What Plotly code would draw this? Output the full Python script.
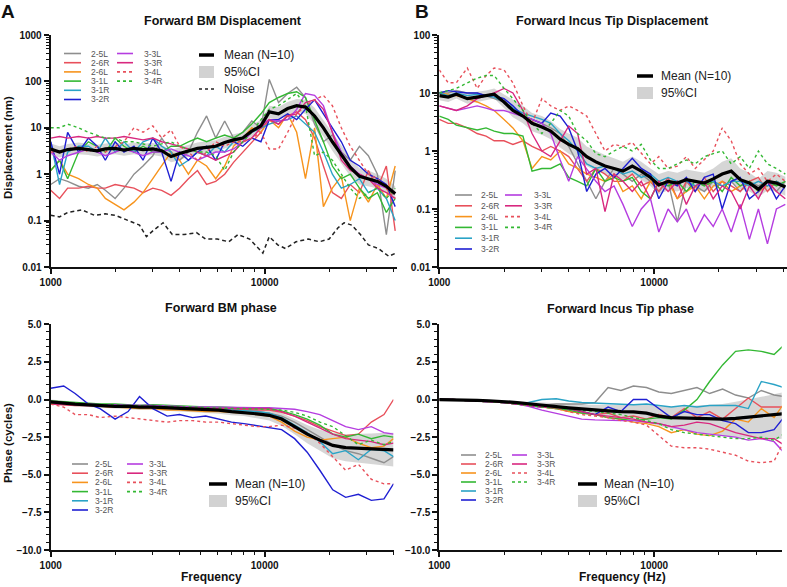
import plotly.graph_objects as go

W, H = 787, 587

# ---------------------------------------------------------------- data
names = ['2-5L', '2-6R', '2-6L', '3-1L', '3-1R', '3-2R', '3-3L', '3-3R', '3-4L', '3-4R']
colors = ['#8e8e8e', '#e8505b', '#f7941d', '#33b833', '#2aa3c6', '#1f1fd2',
          '#b53de0', '#d8287f', '#e8505b', '#33b833']
dashes = ['solid'] * 8 + ['3px,3px', '3px,3px']

freq_d = [1000, 1100, 1200, 1350, 1500, 1650, 1800, 2000, 2200, 2450, 2700, 3000, 3300,
          3650, 4000, 4400, 4850, 5350, 5900, 6500, 7150, 7900, 8700, 9600, 10500, 11600,
          12800, 14100, 15500, 17100, 18800, 20700, 22800, 25100, 27700, 30500, 33600,
          37000, 40700]

# forward BM displacement (nm)
bm_25L = [0.6, 0.8, 0.7, 0.55, 0.5, 0.6, 0.45, 0.3, 0.5, 1.0, 1.5, 2.5, 6, 3, 2, 3, 8, 18, 6, 14,
          6, 8, 14, 10, 110, 35, 55, 75, 45, 12, 5, 7, 3, 2, 4, 2.5, 1, 0.05, 1.2]
bm_26R = [0.45, 0.3, 0.5, 0.5, 0.55, 0.5, 0.5, 0.6, 0.55, 0.5, 0.4, 0.5, 0.45, 0.35, 0.5, 0.8,
          1.2, 0.6, 0.7, 1.0, 1.8, 3, 5, 8, 15, 12, 18, 22, 15, 6, 1.5, 0.4, 0.3, 0.6, 0.4, 1.2,
          0.5, 1.5, 0.06]
bm_26L = [1.2, 2.0, 1.0, 0.8, 0.6, 0.5, 0.3, 0.22, 0.17, 0.25, 0.4, 0.8, 1.5, 3.0, 2.0, 1.0,
          2.0, 1.5, 0.8, 1.5, 4, 6, 10, 8, 15, 10, 20, 8, 0.8, 10, 0.2, 0.5, 0.9, 0.1, 0.5,
          0.25, 0.6, 0.3, 1.5]
bm_31L = [1.2, 2.0, 0.8, 3, 5, 4, 3, 6, 4, 3, 4, 3, 3, 4, 4, 5, 6, 5, 6, 7, 6, 8, 12, 20, 35,
          45, 55, 60, 45, 15, 5, 1.5, 0.8, 1.0, 0.5, 0.3, 0.4, 0.15, 0.3]
bm_31R = [5, 0.6, 3, 4, 4, 3, 6, 3, 5, 3, 5, 6, 4, 3, 1.5, 2, 3, 2.5, 4, 3, 5, 6, 8, 10, 12, 14,
          15, 18, 12, 8, 3, 1.0, 0.5, 0.6, 0.8, 0.4, 0.5, 0.3, 0.1]
bm_32R = [5, 1.0, 8, 3, 6, 4, 2, 5, 3, 4, 2, 6, 3, 0.7, 3, 2, 3, 4, 2, 5, 5, 4, 6, 5, 15, 15,
          20, 15, 25, 40, 20, 10, 5, 2, 1.5, 1.0, 0.8, 0.6, 0.2]
bm_33L = [3, 2, 2.5, 3, 3.5, 3, 2.5, 3, 3.5, 3, 2.5, 3, 3, 3.5, 3, 2.5, 2, 2.5, 3, 3, 3.5, 5,
          8, 12, 15, 14, 15, 25, 55, 50, 30, 8, 3, 1.5, 1.0, 0.8, 0.6, 0.5, 0.4]
bm_33R = [6, 6.5, 6, 6.5, 6, 6.5, 6, 6, 6.5, 6, 5.5, 6, 5, 4.5, 4, 3.5, 3, 2.5, 2, 2.5, 3, 5,
          6, 10, 15, 12, 18, 20, 35, 40, 25, 8, 2, 1.2, 1.0, 0.8, 0.5, 0.4, 0.3]
bm_34L = [3, 3, 3.5, 4, 3, 4, 3, 4, 5, 10, 8, 11, 6, 9, 4, 3, 2, 3, 5, 4, 5, 5, 6, 8, 3.5, 3.5,
          8, 20, 30, 40, 50, 30, 10, 4, 2, 1, 0.8, 0.5, 0.3]
bm_34R = [10, 10, 12, 10, 8, 7, 6, 6, 5, 5, 4.5, 4, 4.5, 5, 4, 3.5, 3, 3, 2.5, 1.2, 3, 5, 8,
          15, 25, 30, 40, 55, 30, 2.5, 3, 2, 1, 0.5, 0.3, 0.4, 0.5, 0.3, 0.5]
bm_mean = [3.5, 3.0, 3.4, 3.6, 3.4, 3.2, 3.5, 3.6, 3.3, 3.6, 3.4, 3.5, 3.2, 2.4, 2.8, 3.2, 3.6,
           3.8, 4.0, 4.8, 5.5, 6.0, 8.5, 11, 22, 20, 26, 30, 28, 18, 10, 5, 2.7, 1.4, 0.9, 0.8,
           0.7, 0.55, 0.38]
bm_lo = [2.6, 2.3, 2.6, 2.7, 2.6, 2.4, 2.6, 2.7, 2.5, 2.7, 2.5, 2.6, 2.4, 1.8, 2.0, 2.4, 2.7,
         2.8, 3.0, 3.6, 4.2, 4.5, 6.5, 8.5, 16, 15, 19, 22, 20, 12, 6.5, 3.2, 1.7, 0.9, 0.6,
         0.55, 0.5, 0.4, 0.27]
bm_hi = [4.6, 4.0, 4.5, 4.8, 4.5, 4.3, 4.6, 4.8, 4.4, 4.8, 4.6, 4.7, 4.3, 3.3, 3.8, 4.3, 4.8,
         5.1, 5.4, 6.4, 7.3, 8.0, 11.5, 15, 30, 28, 36, 42, 40, 27, 15, 7.8, 4.2, 2.2, 1.35,
         1.2, 1.0, 0.8, 0.55]

noise_f = [1000, 1100, 1200, 1400, 1600, 1800, 2000, 2300, 2600, 2800, 3000, 3350, 3700, 4200,
           4800, 5300, 6000, 6800, 7500, 8500, 9800, 10500, 11500, 12500, 14000, 16000, 18000,
           20000, 22000, 23500, 25500, 28000, 30500, 34000, 38000, 41000]
noise_v = [0.13, 0.12, 0.15, 0.17, 0.13, 0.14, 0.13, 0.10, 0.08, 0.045, 0.06, 0.09, 0.05, 0.05,
           0.055, 0.04, 0.04, 0.035, 0.05, 0.04, 0.02, 0.045, 0.03, 0.025, 0.035, 0.04, 0.035,
           0.04, 0.07, 0.09, 0.08, 0.05, 0.03, 0.025, 0.017, 0.02]

# forward incus tip displacement (nm)
it_25L = [10, 10, 11, 10, 10, 9, 8, 7, 5.5, 4, 3.5, 3, 2.5, 2, 1.2, 0.6, 0.3, 0.15, 0.3, 0.5,
          0.4, 0.3, 0.4, 0.3, 0.2, 0.3, 0.06, 0.3, 0.25, 0.2, 0.3, 0.25, 0.3, 0.2, 0.3, 0.25,
          0.3, 0.2, 0.3]
it_26R = [3.5, 3, 3, 2.5, 2, 1.8, 1.5, 1.5, 1.3, 1.5, 1.2, 1.0, 1.2, 1.0, 0.8, 0.5, 0.3, 0.5,
          0.4, 0.3, 0.3, 0.4, 0.25, 0.3, 0.2, 0.35, 0.15, 0.3, 0.2, 0.35, 0.2, 0.3, 0.25, 0.2,
          0.3, 0.35, 0.2, 0.3, 0.25]
it_26L = [10, 9.5, 9, 8, 7, 6, 5, 3.5, 2.5, 1.5, 0.5, 0.8, 0.7, 1.0, 0.6, 0.5, 0.4, 0.35, 0.3,
          0.4, 0.2, 0.25, 0.15, 0.3, 0.25, 0.3, 0.15, 0.2, 0.25, 0.15, 0.25, 0.3, 0.2, 0.25,
          0.3, 0.2, 0.25, 0.3, 0.25]
it_31L = [4, 3.5, 2.8, 2.5, 2.3, 2.5, 2.2, 2.0, 2.0, 1.8, 0.45, 0.5, 0.5, 0.6, 0.35, 0.3, 0.25,
          0.5, 0.3, 0.35, 0.3, 0.35, 0.2, 0.15, 0.3, 0.25, 0.3, 0.2, 0.3, 0.25, 0.3, 0.2, 0.35,
          0.25, 0.3, 0.2, 0.3, 0.25, 0.3]
it_31R = [10, 9, 10, 9, 9.5, 9, 8.5, 7, 5.5, 4.5, 4, 3.5, 3, 2, 1.5, 1.0, 0.6, 0.5, 0.55, 0.5,
          0.4, 0.45, 0.35, 0.4, 0.3, 0.35, 0.3, 0.3, 0.25, 0.3, 0.3, 0.25, 0.3, 0.3, 0.25, 0.3,
          0.25, 0.3, 0.25]
it_32R = [10, 11, 10.5, 10, 10, 9, 9, 8, 6, 4, 3.5, 3, 4.5, 4, 2.5, 1.0, 0.2, 0.4, 0.5, 0.35,
          0.5, 0.75, 0.5, 0.4, 0.15, 0.3, 0.25, 0.35, 0.2, 0.35, 0.4, 0.1, 0.3, 0.35, 0.15, 0.2,
          0.3, 0.15, 0.25]
it_33L = [6, 5.5, 5, 5.5, 6, 5.5, 5, 5, 4.5, 4, 3.5, 3, 2, 0.7, 0.3, 0.8, 0.5, 0.3, 0.2, 0.25,
          0.12, 0.05, 0.1, 0.15, 0.04, 0.1, 0.06, 0.1, 0.04, 0.08, 0.05, 0.1, 0.04, 0.12, 0.03,
          0.1, 0.025, 0.1, 0.12]
it_33R = [6, 5.5, 5, 6, 8, 9, 10, 12, 10, 5, 2, 1.0, 0.8, 1.5, 2.7, 2.0, 0.4, 0.5, 0.09, 0.4,
          0.3, 0.2, 0.3, 0.15, 0.3, 0.2, 0.3, 0.12, 0.25, 0.3, 0.15, 0.25, 0.2, 0.1, 0.25, 0.15,
          0.3, 0.2, 0.15]
it_34L = [25, 15, 15, 27, 12, 20, 27, 25, 15, 6, 3, 8, 6, 5, 6, 5, 4, 2, 1.0, 1.3, 1.2, 1.4,
          0.9, 0.6, 0.8, 0.5, 0.55, 0.8, 0.5, 0.7, 1.0, 2.5, 1.5, 0.6, 0.4, 0.5, 0.3, 0.4, 0.3]
it_34R = [10, 11, 12, 15, 18, 20, 20, 12, 8, 5, 3, 2, 3, 5, 4, 2, 1.5, 0.9, 0.8, 1.0, 1.2, 1.0,
          1.3, 0.7, 0.5, 0.5, 0.6, 0.7, 0.6, 0.8, 0.9, 1.0, 0.6, 0.8, 0.5, 1.0, 0.6, 0.5, 0.4]
it_mean = [9, 8.5, 9.5, 8, 8.5, 9, 9.5, 7, 5, 4, 3, 2.6, 2.2, 1.6, 1.3, 1.1, 0.8, 0.65, 0.55,
           0.5, 0.45, 0.55, 0.45, 0.35, 0.26, 0.3, 0.28, 0.32, 0.3, 0.28, 0.33, 0.4, 0.45, 0.32,
           0.28, 0.22, 0.3, 0.28, 0.24]
it_lo = [7.5, 7, 8, 6.5, 7, 7.5, 8, 5.5, 3.8, 3, 2.2, 1.9, 1.6, 1.15, 0.9, 0.75, 0.55, 0.45,
         0.4, 0.36, 0.32, 0.4, 0.32, 0.25, 0.18, 0.21, 0.2, 0.23, 0.21, 0.2, 0.23, 0.28, 0.3,
         0.22, 0.2, 0.16, 0.21, 0.2, 0.17]
it_hi = [11, 10.5, 11.5, 10, 10.5, 11, 12, 9.5, 7.5, 6, 4.5, 4, 3.3, 2.4, 2, 1.7, 1.2, 1.0,
         0.85, 0.75, 0.65, 0.8, 0.65, 0.5, 0.4, 0.45, 0.42, 0.48, 0.45, 0.42, 0.5, 0.65, 0.75,
         0.5, 0.42, 0.33, 0.45, 0.42, 0.36]

freq_p = [1000, 1150, 1300, 1500, 1700, 2000, 2300, 2600, 3000, 3500, 4000, 4600, 5300, 6100,
          7000, 8000, 9200, 10500, 12000, 13800, 15800, 18100, 20800, 23900, 27400, 31500,
          36100, 40000]

# forward BM phase (cycles)
bp_25L = [-0.2, -0.3, -0.3, -0.35, -0.4, -0.4, -0.45, -0.45, -0.5, -0.5, -0.55, -0.6, -0.6,
          -0.65, -0.7, -0.75, -0.8, -0.9, -1.1, -1.5, -2.0, -2.5, -3.0, -3.4, -3.6, -3.9, -4.2,
          -3.8]
bp_26R = [-0.3, -0.35, -0.4, -0.4, -0.45, -0.5, -0.45, -0.5, -0.55, -0.5, -0.55, -0.6, -0.55,
          -0.6, -0.6, -0.65, -0.7, -0.7, -0.85, -1.1, -1.4, -1.8, -2.1, -2.4, -2.3, -1.5, -1.0,
          0.0]
bp_26L = [-0.2, -0.3, -0.3, -0.4, -0.45, -0.5, -0.55, -0.6, -0.6, -0.7, -0.7, -0.75, -0.8,
          -0.8, -0.85, -0.9, -1.0, -1.1, -1.5, -2.1, -2.5, -2.7, -2.6, -2.5, -2.9, -3.2, -3.1,
          -2.6]
bp_31L = [-0.1, -0.15, -0.2, -0.25, -0.3, -0.3, -0.35, -0.4, -0.35, -0.4, -0.4, -0.45, -0.5,
          -0.5, -0.55, -0.55, -0.6, -0.6, -0.75, -1.0, -1.3, -1.7, -2.3, -2.5, -2.3, -2.6, -2.4,
          -2.5]
bp_31R = [-0.2, -0.25, -0.3, -0.35, -0.4, -0.4, -0.45, -0.5, -0.5, -0.5, -0.55, -0.6, -0.6,
          -0.65, -0.7, -0.75, -0.8, -0.9, -1.2, -1.7, -2.2, -2.8, -3.6, -3.4, -4.0, -3.3, -3.4,
          -3.8]
bp_32R = [0.75, 0.9, 0.4, -0.3, -0.6, -1.3, -0.8, 0.2, -0.6, -1.1, -1.0, -1.2, -1.1, -1.3,
          -1.5, -1.6, -1.75, -1.85, -2.0, -2.6, -3.5, -4.7, -6.0, -6.5, -6.3, -6.7, -6.6, -5.6]
bp_33L = [-0.2, -0.25, -0.3, -0.3, -0.35, -0.35, -0.4, -0.4, -0.4, -0.45, -0.45, -0.5, -0.5,
          -0.5, -0.55, -0.55, -0.55, -0.55, -0.6, -0.65, -0.8, -1.0, -1.4, -1.8, -2.0, -1.8,
          -2.2, -2.3]
bp_33R = [-0.3, -0.3, -0.35, -0.4, -0.4, -0.45, -0.45, -0.5, -0.5, -0.5, -0.55, -0.55, -0.6,
          -0.6, -0.6, -0.6, -0.6, -0.6, -0.8, -1.1, -1.5, -1.9, -2.3, -2.6, -2.7, -2.8, -3.0,
          -2.9]
bp_34L = [-0.3, -0.5, -1.0, -1.0, -1.2, -1.1, -1.2, -1.3, -1.4, -1.5, -1.4, -1.4, -1.5, -1.5,
          -1.6, -1.7, -1.8, -1.8, -1.7, -1.9, -2.2, -2.9, -3.8, -4.7, -4.3, -5.3, -5.6, -5.6]
bp_34R = [-0.2, -0.25, -0.3, -0.3, -0.35, -0.35, -0.4, -0.4, -0.45, -0.45, -0.5, -0.5, -0.55,
          -0.55, -0.6, -0.6, -0.6, -0.65, -0.7, -0.85, -1.1, -1.5, -1.8, -2.4, -3.0, -2.7, -3.0,
          -2.8]
bp_mean = [-0.15, -0.25, -0.3, -0.35, -0.4, -0.45, -0.45, -0.5, -0.5, -0.55, -0.6, -0.65, -0.65,
           -0.7, -0.8, -0.85, -0.95, -1.05, -1.3, -1.8, -2.3, -2.7, -3.05, -3.2, -3.25, -3.25,
           -3.3, -3.35]
bp_lo = [-0.3, -0.4, -0.45, -0.5, -0.55, -0.6, -0.65, -0.7, -0.7, -0.75, -0.8, -0.85, -0.9,
         -0.95, -1.05, -1.1, -1.25, -1.4, -1.75, -2.3, -2.9, -3.4, -3.9, -4.1, -4.2, -4.3, -4.4,
         -4.45]
bp_hi = [0.0, -0.1, -0.15, -0.2, -0.25, -0.3, -0.3, -0.3, -0.3, -0.35, -0.4, -0.45, -0.45, -0.5,
         -0.55, -0.6, -0.65, -0.7, -0.9, -1.3, -1.7, -2.0, -2.2, -2.3, -2.3, -2.25, -2.2, -2.2]

# forward incus tip phase (cycles)
ip_25L = [0.0, 0.0, -0.02, -0.05, -0.1, -0.15, -0.2, -0.3, -0.4, -0.3, -0.3, -0.3, -0.2, 0.8,
          0.6, 0.9, 0.8, 0.5, 0.4, 0.6, 0.8, 0.4, 0.7, 0.3, 0.1, 0.6, 0.3, 0.2]
ip_26R = [0.0, 0.0, -0.05, -0.1, -0.15, -0.2, -0.3, -0.35, -0.45, -0.5, -0.6, -0.8, -1.0, -0.9,
          -1.2, -1.1, -1.3, -1.0, -1.2, -0.6, -1.2, -0.8, -1.3, -0.6, 0.1, -0.5, -0.5, -0.5]
ip_26L = [0.0, 0.0, -0.05, -0.1, -0.15, -0.2, -0.3, -0.4, -0.5, -0.6, -0.8, -0.9, -1.0, -1.2,
          -1.3, -1.5, -1.6, -1.8, -2.2, -2.0, -2.3, -2.4, -2.1, -1.3, -1.5, -0.6, -1.2, -0.3]
ip_31L = [0.0, 0.0, -0.05, -0.1, -0.15, -0.2, -0.3, -0.4, -0.5, -0.6, -0.7, -0.9, -1.0, -1.2,
          -1.3, -1.4, -1.3, -1.2, -1.3, -0.7, 0.0, 1.2, 2.3, 3.2, 3.3, 3.2, 3.0, 3.6]
ip_31R = [0.0, 0.0, -0.05, -0.1, -0.15, -0.2, -0.25, -0.2, 0.0, 0.05, -0.1, -0.2, -0.25, -0.3,
          -0.3, -0.35, -0.3, -0.4, -0.5, -0.4, -0.5, -0.4, -0.4, -0.4, -0.6, 1.2, 1.0, 0.8]
ip_32R = [0.0, 0.0, -0.05, -0.1, -0.15, -0.2, -0.3, -0.4, -0.5, -0.5, -0.6, -0.8, -1.0, -0.5,
          -0.8, 0.0, 0.0, -0.6, -1.2, -0.8, -1.0, -1.0, -1.4, -1.6, -2.2, -2.2, -2.0, -1.2]
ip_33L = [0.0, 0.0, -0.05, -0.1, -0.15, -0.2, -0.3, -0.45, -0.7, -0.9, -1.1, -1.3, -1.35, -1.4,
          -1.4, -1.4, -1.5, -1.6, -1.8, -2.0, -2.2, -2.3, -2.4, -2.5, -2.7, -2.6, -2.8, -3.5]
ip_33R = [0.0, 0.0, -0.05, -0.1, -0.15, -0.2, -0.3, -0.4, -0.5, -0.55, -0.6, -0.8, -1.0, -1.1,
          -1.2, -1.3, -1.5, -1.6, -1.8, -1.7, -1.5, -1.6, -1.9, -2.2, -2.4, -2.6, -2.6, -3.0]
ip_34L = [0.0, 0.0, -0.05, -0.1, -0.15, -0.2, -0.3, -0.4, -0.5, -0.6, -0.8, -1.0, -1.1, -1.2,
          -1.4, -1.5, -1.7, -2.4, -3.1, -3.2, -3.2, -3.3, -3.5, -3.7, -4.1, -4.2, -4.1, -2.8]
ip_34R = [0.0, 0.0, -0.05, -0.1, -0.15, -0.2, -0.3, -0.4, -0.5, -0.55, -0.6, -0.7, -0.8, -0.9,
          -1.0, -1.2, -1.4, -1.6, -2.0, -2.2, -2.3, -2.4, -2.5, -2.6, -2.6, -2.5, -2.7, -2.3]
ip_mean = [0.0, 0.0, -0.02, -0.05, -0.08, -0.12, -0.2, -0.28, -0.38, -0.45, -0.55, -0.62, -0.7,
           -0.75, -0.8, -0.82, -0.9, -1.1, -1.2, -1.22, -1.25, -1.3, -1.3, -1.25, -1.15, -1.05,
           -1.0, -0.95]
ip_lo = [0.0, -0.02, -0.05, -0.1, -0.15, -0.2, -0.3, -0.4, -0.55, -0.65, -0.8, -0.9, -1.05,
         -1.15, -1.3, -1.4, -1.55, -1.75, -1.95, -2.05, -2.15, -2.3, -2.4, -2.5, -2.55, -2.6,
         -2.65, -2.6]
ip_hi = [0.0, 0.02, 0.01, 0.0, -0.02, -0.05, -0.1, -0.15, -0.22, -0.25, -0.3, -0.35, -0.35,
         -0.35, -0.35, -0.3, -0.35, -0.45, -0.5, -0.45, -0.4, -0.35, -0.3, -0.15, 0.0, 0.2,
         0.35, 0.5]

panels = [
    ('x', 'y', freq_d, [bm_25L, bm_26R, bm_26L, bm_31L, bm_31R, bm_32R, bm_33L, bm_33R, bm_34L, bm_34R],
     bm_mean, bm_lo, bm_hi),
    ('x2', 'y2', freq_d, [it_25L, it_26R, it_26L, it_31L, it_31R, it_32R, it_33L, it_33R, it_34L, it_34R],
     it_mean, it_lo, it_hi),
    ('x3', 'y3', freq_p, [bp_25L, bp_26R, bp_26L, bp_31L, bp_31R, bp_32R, bp_33L, bp_33R, bp_34L, bp_34R],
     bp_mean, bp_lo, bp_hi),
    ('x4', 'y4', freq_p, [ip_25L, ip_26R, ip_26L, ip_31L, ip_31R, ip_32R, ip_33L, ip_33R, ip_34L, ip_34R],
     ip_mean, ip_lo, ip_hi),
]

# ---------------------------------------------------------------- figure
fig = go.Figure()

for xa, ya, fq, series, mean, lo, hi in panels:
    fig.add_trace(go.Scatter(x=fq, y=lo, xaxis=xa, yaxis=ya, mode='lines',
                             line=dict(width=0), hoverinfo='skip', showlegend=False))
    fig.add_trace(go.Scatter(x=fq, y=hi, xaxis=xa, yaxis=ya, mode='lines', fill='tonexty',
                             fillcolor='rgba(200,200,200,0.75)', line=dict(width=0),
                             showlegend=False, name='95%CI'))
    for nm, col, ds, vals in zip(names, colors, dashes, series):
        fig.add_trace(go.Scatter(x=fq, y=vals, xaxis=xa, yaxis=ya, mode='lines', name=nm,
                                 line=dict(color=col, width=1.4, dash=ds), showlegend=False))
    fig.add_trace(go.Scatter(x=fq, y=mean, xaxis=xa, yaxis=ya, mode='lines', name='Mean (N=10)',
                             line=dict(color='black', width=3.2), showlegend=False))

fig.add_trace(go.Scatter(x=noise_f, y=noise_v, xaxis='x', yaxis='y', mode='lines', name='Noise',
                         line=dict(color='#222', width=1.5, dash='4px,3px'), showlegend=False))


def px(x):
    return x / W


def py(y):
    return 1 - y / H


tickfont = dict(family='Liberation Sans, Arial', size=10, color='#111', weight='bold')
minor_x = [2000, 3000, 4000, 5000, 6000, 7000, 8000, 9000, 20000, 30000, 40000]


def xaxis(dom, rng, anchor):
    return dict(type='log', domain=dom, range=rng, anchor=anchor, automargin=False,
                tickvals=[1000, 10000], ticktext=['1000', '10000'],
                showline=True, linecolor='#111', linewidth=2, ticks='outside',
                ticklen=5, tickwidth=1.5, tickcolor='#111', showgrid=False, zeroline=False,
                tickfont=tickfont,
                minor=dict(tickvals=minor_x, ticks='outside', ticklen=3, tickcolor='#111',
                           tickwidth=1.2, showgrid=False))


def logy(dom, rng, anchor, vals, texts):
    mins = [m * v for v in vals[:-1] for m in range(2, 10)]
    return dict(type='log', domain=dom, range=rng, anchor=anchor, automargin=False,
                tickvals=vals, ticktext=texts, showline=True, linecolor='#111', linewidth=2,
                ticks='outside', ticklen=5, tickwidth=1.5, tickcolor='#111',
                showgrid=False, zeroline=False, tickfont=tickfont,
                minor=dict(tickvals=mins, ticks='outside', ticklen=3, tickcolor='#111',
                           tickwidth=1, showgrid=False))


def liny(dom, anchor):
    return dict(domain=dom, range=[-10, 5], anchor=anchor, automargin=False,
                tickvals=[5, 2.5, 0, -2.5, -5, -7.5, -10],
                tickformat='.1f', showline=True, linecolor='#111', linewidth=2,
                ticks='outside', ticklen=5, tickwidth=1.5, tickcolor='#111',
                showgrid=False, zeroline=False, tickfont=tickfont,
                minor=dict(dtick=0.5, ticks='outside', ticklen=3, tickcolor='#111',
                           tickwidth=1, showgrid=False))


top_dom = [py(267), py(35)]
bot_dom = [py(550), py(324.3)]

fig.update_layout(
    width=W, height=H,
    margin=dict(l=0, r=0, t=0, b=0),
    paper_bgcolor='white', plot_bgcolor='white',
    showlegend=False,
    font=dict(family='Liberation Sans, Arial', color='#222'),
    xaxis=xaxis([px(50.7), px(397)], [3, 4.618], 'y'),
    yaxis=logy(top_dom, [-2, 3], 'x', [0.01, 0.1, 1, 10, 100, 1000],
               ['0.01', '0.1', '1', '10', '100', '1000']),
    xaxis2=xaxis([px(439.3), px(786.7)], [3, 4.616], 'y2'),
    yaxis2=logy(top_dom, [-2, 2], 'x2', [0.01, 0.1, 1, 10, 100],
                ['0.01', '0.1', '1', '10', '100']),
    xaxis3=xaxis([px(50.7), px(393.5)], [3, 4.602], 'y3'),
    yaxis3=liny(bot_dom, 'x3'),
    xaxis4=xaxis([px(439.3), px(781.7)], [3, 4.593], 'y4'),
    yaxis4=liny(bot_dom, 'x4'),
)

# ---------------------------------------------------------------- text
def text(x, y, s, size, bold=True, angle=0, anchor='center', color='#111'):
    fig.add_annotation(x=px(x), y=py(y), xref='paper', yref='paper', text=s, showarrow=False,
                       xanchor=anchor, yanchor='middle', textangle=angle,
                       font=dict(size=size, color=color, family='Liberation Sans, Arial',
                                 weight='bold' if bold else 'normal'))


text(8, 11, 'A', 19)
text(422, 11, 'B', 19)
text(223, 21, 'Forward BM Displacement', 12.5)
text(612, 21, 'Forward Incus Tip Displacement', 12.5)
text(221, 308, 'Forward BM phase', 12.5)
text(620, 309, 'Forward Incus Tip phase', 12.5)
text(8, 148, 'Displacement (nm)', 11.5, angle=-90)
text(8, 443, 'Phase (cycles)', 11.5, angle=-90)
text(212, 577, 'Frequency', 12)
text(622, 577, 'Frequency (Hz)', 12)


# ---------------------------------------------------------------- keys
def key_line(x0, x1, y, col, ds, wd):
    fig.add_shape(type='line', xref='paper', yref='paper', x0=px(x0), x1=px(x1),
                  y0=py(y), y1=py(y), line=dict(color=col, width=wd, dash=ds))


def key_block(c1, c2, rows, dy):
    # c1/c2: (line x0, line x1, text x) for the two columns
    for i in range(10):
        col = c1 if i < 6 else c2
        y = rows + dy * (i if i < 6 else i - 6)
        key_line(col[0], col[1], y, colors[i], 'dot' if i >= 8 else 'solid', 1.6)
        text(col[2], y, names[i], 8.5, bold=False, anchor='left', color='#555')


def mean_block(x0, x1, tx, y, dy, noise=False):
    key_line(x0, x1, y, 'black', 'solid', 3.5)
    text(tx, y, 'Mean (N=10)', 12, bold=False, anchor='left', color='#222')
    fig.add_shape(type='rect', xref='paper', yref='paper', x0=px(x0), x1=px(x1),
                  y0=py(y + dy - 6), y1=py(y + dy + 6), line=dict(width=0),
                  fillcolor='#d2d2d2')
    text(tx, y + dy, '95%CI', 12, bold=False, anchor='left', color='#222')
    if noise:
        key_line(x0, x1, y + 2 * dy, '#222', '3px,3px', 1.5)
        text(tx, y + 2 * dy, 'Noise', 12, bold=False, anchor='left', color='#222')


key_block((64, 81, 89), (117, 133, 142), 53.5, 9.2)
mean_block(199, 214, 222, 55, 17, noise=True)

key_block((455, 472, 479), (505, 522, 532), 195, 10.8)
mean_block(637, 653, 659, 76, 17)

key_block((72, 88, 93), (127, 143, 147), 464, 9.2)
mean_block(209, 227, 233, 484, 17)

key_block((461, 476, 483), (512, 527, 535), 455, 9.0)
mean_block(578, 597, 602, 484, 17)

# the page body has a default 8px margin; drop it so the figure sits at the window corner
fig.write_html('out.html', config={'displayModeBar': False},
               post_script="document.body.style.margin='0';")
